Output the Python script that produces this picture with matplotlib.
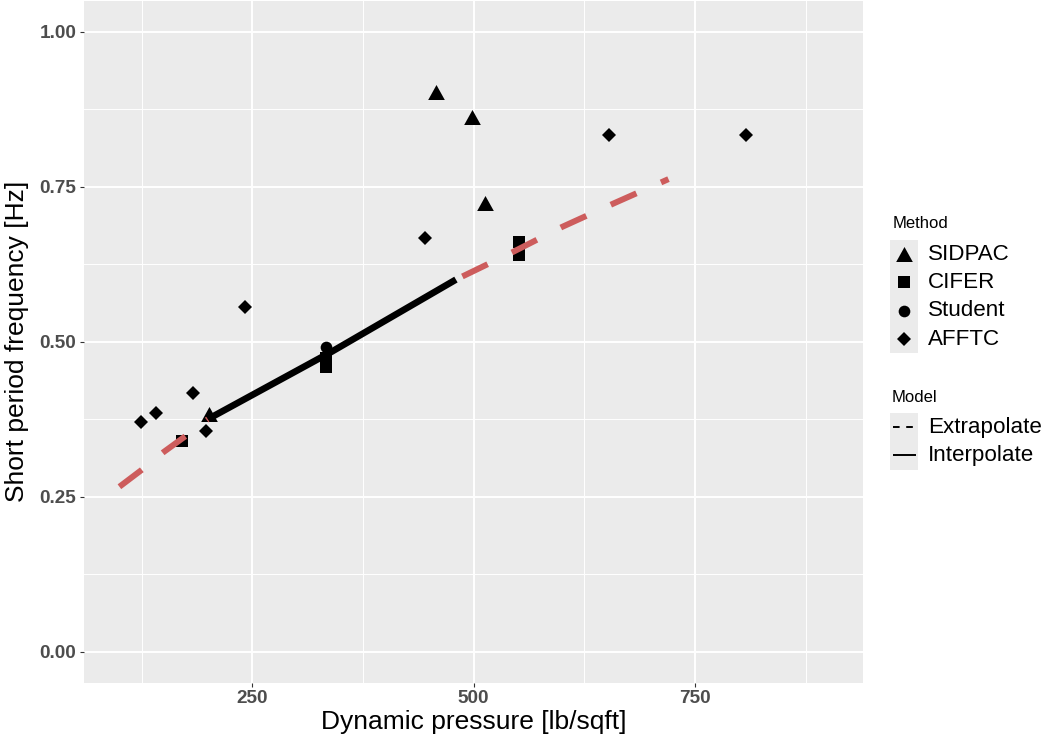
import matplotlib
matplotlib.use("Agg")
import matplotlib.pyplot as plt
from matplotlib.patches import Rectangle
from matplotlib.ticker import FixedLocator

plt.rcParams["font.family"] = ["Liberation Sans", "DejaVu Sans"]

# Identified short-period frequencies by method
sidpac_q = [457.5, 498.0, 513.0, 201.5]
sidpac_f = [0.902, 0.862, 0.723, 0.383]
cifer_q = [170.3, 333.5, 333.5, 551.6, 551.6]
cifer_f = [0.340, 0.474, 0.459, 0.660, 0.639]
student_q = [333.0]
student_f = [0.491]
afftc_q = [124.3, 141.2, 182.7, 197.7, 241.8, 445.0, 653.0, 807.0]
afftc_f = [0.370, 0.385, 0.417, 0.356, 0.556, 0.667, 0.833, 0.833]

# Model curve: extrapolated below, interpolated, extrapolated above
fit_low_q = [100, 125, 150, 175, 200]
fit_low_f = [0.266, 0.293, 0.322, 0.348, 0.375]
fit_mid_q = [200, 340, 480]
fit_mid_f = [0.375, 0.484, 0.600]
fit_high_q = [480, 545, 600, 660, 720]
fit_high_f = [0.600, 0.645, 0.685, 0.724, 0.762]

x_ticks = [250, 500, 750]
x_minor = [125, 375, 625, 875]
y_ticks = [0.00, 0.25, 0.50, 0.75, 1.00]
y_tick_labels = ["0.00", "0.25", "0.50", "0.75", "1.00"]
y_minor = [0.125, 0.375, 0.625, 0.875]

methods = ["SIDPAC", "CIFER", "Student", "AFFTC"]
models = ["Extrapolate", "Interpolate"]

RED = "#CD5C5C"
PANEL = "#EBEBEB"
TRI = [(-1, -0.9), (1, -0.9), (0, 0.9)]
marker_style = {
    "SIDPAC": dict(marker=TRI, ms=12.0),
    "CIFER": dict(marker="s", ms=9.1),
    "Student": dict(marker="o", ms=8.4),
    "AFFTC": dict(marker="D", ms=7.3),
}

W, H = 1048, 742
fig = plt.figure(figsize=(W / 100, H / 100), dpi=100)
L, R, T, B = 84, 863.3, 0.5, 682.7
ax = fig.add_axes([L / W, (H - B) / H, (R - L) / W, (B - T) / H])
ax.set_facecolor(PANEL)
for s in ax.spines.values():
    s.set_visible(False)

ax.set_xlim(60, 940)
ax.set_ylim(-0.05, 1.05)
ax.set_xticks(x_ticks)
ax.set_xticklabels([str(t) for t in x_ticks])
ax.set_yticks(y_ticks)
ax.set_yticklabels(y_tick_labels)
ax.xaxis.set_minor_locator(FixedLocator(x_minor))
ax.yaxis.set_minor_locator(FixedLocator(y_minor))
ax.grid(True, which="major", color="white", lw=1.4)
ax.grid(True, which="minor", color="white", lw=0.7)
ax.set_axisbelow(True)
ax.tick_params(which="major", length=2.9, width=0.8, color="#333333",
               labelcolor="#4D4D4D", labelsize=13.7, pad=2.6)
ax.tick_params(which="minor", length=0)
for lab in ax.get_xticklabels() + ax.get_yticklabels():
    lab.set_fontweight("bold")

pts = [("SIDPAC", sidpac_q, sidpac_f), ("CIFER", cifer_q, cifer_f),
       ("Student", student_q, student_f), ("AFFTC", afftc_q, afftc_f)]
for name, q, f in pts:
    st = marker_style[name]
    ax.plot(q, f, ls="none", marker=st["marker"], ms=st["ms"],
            color="black", mew=0, zorder=3)

ax.plot(fit_low_q, fit_low_f, color=RED, lw=4.3, ls=(0, (4.7, 4.5)),
        dash_capstyle="butt", zorder=4)
ax.plot(fit_high_q, fit_high_f, color=RED, lw=4.3, ls=(8.0, (4.7, 4.5)),
        dash_capstyle="butt", zorder=4)
ax.plot(fit_mid_q, fit_mid_f, color="black", lw=4.8,
        solid_capstyle="butt", solid_joinstyle="round", zorder=4)

ax.set_xlabel("Dynamic pressure [lb/sqft]", fontsize=19, color="black")
ax.set_ylabel("Short period frequency [Hz]", fontsize=19, color="black")
ax.xaxis.set_label_coords(0.5, (B - 722) / (B - T))
ax.xaxis.label.set_va("center")
ax.yaxis.set_label_coords((17.5 - L) / (R - L), 0.5)
ax.yaxis.label.set_va("center")

# Legend drawn in pixel space
lg = fig.add_axes([0, 0, 1, 1], zorder=5)
lg.set_xlim(0, W)
lg.set_ylim(H, 0)
lg.axis("off")
lg.patch.set_alpha(0)

kx0, kx1 = 890, 918.3
kh = 28.3
kcx = (kx0 + kx1) / 2
tx = 928

lg.text(893, 223, "Method", fontsize=12, va="center", ha="left")
m_top = 240
lg.add_patch(Rectangle((kx0, m_top), kx1 - kx0, kh * len(methods),
                       facecolor=PANEL, edgecolor="none"))
for i, name in enumerate(methods):
    cy = m_top + kh * (i + 0.5)
    st = marker_style[name]
    lg.plot([kcx], [cy], ls="none", marker=st["marker"], ms=st["ms"],
            color="black", mew=0)
    lg.text(tx, cy, name, fontsize=16.1, va="center", ha="left")

lg.text(892, 397, "Model", fontsize=12, va="center", ha="left")
mo_top = 413
lg.add_patch(Rectangle((kx0, mo_top), kx1 - kx0, kh * len(models),
                       facecolor=PANEL, edgecolor="none"))
for i, name in enumerate(models):
    cy = mo_top + kh * (i + 0.5)
    if name == "Extrapolate":
        lg.plot([893, 913.5], [cy, cy], color="black", lw=1.4,
                ls=(0, (3.4, 3.4)), dash_capstyle="butt")
    else:
        lg.plot([893, 915.5], [cy, cy], color="black", lw=1.4,
                solid_capstyle="butt")
    lg.text(tx, cy, name, fontsize=16.1, va="center", ha="left")

fig.savefig("out.png", dpi=100)
